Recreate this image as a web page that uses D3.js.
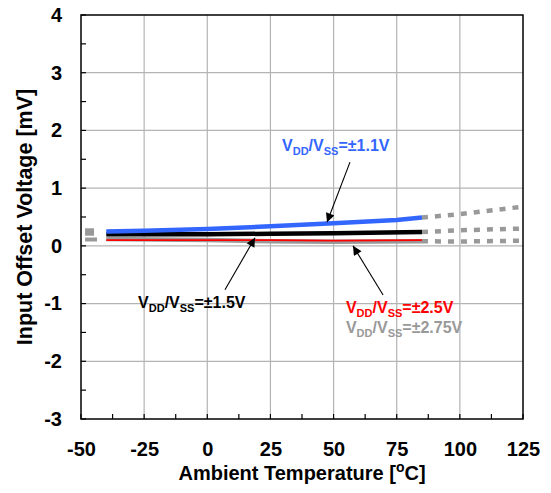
<!DOCTYPE html>
<html><head><meta charset="utf-8">
<script src="https://cdn.jsdelivr.net/npm/d3@7"></script>
<style>body{margin:0;background:#fff}svg{display:block}text{font-family:"Liberation Sans",Arial,sans-serif;font-weight:bold}</style>
</head><body><svg id="c" width="551" height="493"></svg>
<script>
// ---- data ----
const xTicks = [-50,-25,0,25,50,75,100,125];
const yTicks = [-3,-2,-1,0,1,2,3,4];
const temps11 = [-40,-25,0,25,50,75,85];
const vos11   = [0.25,0.26,0.29,0.34,0.39,0.45,0.49];
const temps15 = [-40,0,25,50,85];
const vos15   = [0.20,0.20,0.21,0.22,0.24];
const temps25 = [-40,0,25,50,85];
const vos25   = [0.10,0.10,0.10,0.09,0.10];
const temps275 = [-40,0,25,50,85];
const vos275   = [0.12,0.10,0.08,0.07,0.08];
// dashed extrapolations (grey)
const extTemps = [85,100,125];
const ext11 = [0.49,0.55,0.68];
const ext15 = [0.24,0.27,0.30];
const ext275 = [0.08,0.075,0.09];
const extLeftTemps = [-48.4,-40];
const extLeft11 = [0.27,0.27];
const extLeft15 = [0.21,0.21];
const extLeft275 = [0.11,0.11];
const labels = ["\u00b11.1V","\u00b11.5V","\u00b12.5V","\u00b12.75V"];

const W=551,H=493,m={l:81,r:28,t:15,b:74};
const svg=d3.select("#c");
const x=d3.scaleLinear().domain([-50,125]).range([m.l,W-m.r]);
const y=d3.scaleLinear().domain([-3,4]).range([H-m.b,m.t]);

// grid
svg.append("g").selectAll("line").data(xTicks.slice(1,-1)).join("line")
 .attr("x1",d=>x(d)).attr("x2",d=>x(d)).attr("y1",y(-3)).attr("y2",y(4))
 .attr("stroke","#b4b4b4").attr("stroke-width",1.2);
svg.append("g").selectAll("line").data(yTicks.slice(1,-1)).join("line")
 .attr("y1",d=>y(d)).attr("y2",d=>y(d)).attr("x1",x(-50)).attr("x2",x(125))
 .attr("stroke","#b4b4b4").attr("stroke-width",1.2);

// inward ticks
const xMinor=d3.range(-50,125.1,12.5), yMinor=d3.range(-3,4.01,0.5);
svg.append("g").selectAll("line").data(xMinor).join("line")
 .attr("x1",d=>x(d)).attr("x2",d=>x(d)).attr("y1",y(-3)).attr("y2",y(-3)-5)
 .attr("stroke","#000").attr("stroke-width",1.2);
svg.append("g").selectAll("line").data(yMinor).join("line")
 .attr("y1",d=>y(d)).attr("y2",d=>y(d)).attr("x1",x(-50)).attr("x2",x(-50)+5)
 .attr("stroke","#000").attr("stroke-width",1.2);

// axes labels via d3 axes (no domain/ticks lines)
const fmt=d=>String(d);
const ax=svg.append("g").attr("transform",`translate(0,${y(-3)})`)
 .call(d3.axisBottom(x).tickValues(xTicks).tickSize(0).tickPadding(23).tickFormat(fmt));
ax.select(".domain").remove();
ax.selectAll("text").attr("font-size",20).attr("font-family","Liberation Sans, Arial").attr("font-weight","bold").attr("fill","#000");
const ay=svg.append("g").attr("transform",`translate(${x(-50)},0)`)
 .call(d3.axisLeft(y).tickValues(yTicks).tickSize(0).tickPadding(19).tickFormat(fmt));
ay.select(".domain").remove();
ay.selectAll("text").attr("font-size",20).attr("font-family","Liberation Sans, Arial").attr("font-weight","bold").attr("fill","#000");

// frame
svg.append("rect").attr("x",x(-50)).attr("y",y(4)).attr("width",x(125)-x(-50)).attr("height",y(-3)-y(4))
 .attr("fill","none").attr("stroke","#000").attr("stroke-width",1.5);

// axis titles
const xt=svg.append("text").attr("x",(x(-50)+x(125))/2).attr("y",480).attr("text-anchor","middle").attr("font-size",20);
xt.append("tspan").text("Ambient Temperature [");
xt.append("tspan").text("o").attr("font-size",14).attr("dy",-8);
xt.append("tspan").text("C]").attr("dy",8);
svg.append("text").attr("transform",`translate(32,${(y(-3)+y(4))/2}) rotate(-90)`).attr("text-anchor","middle")
 .attr("font-size",21.5).text("Input Offset Voltage [mV]");

const line=d3.line().x(d=>x(d[0])).y(d=>y(d[1]));
const zip=(a,b)=>a.map((v,i)=>[v,b[i]]);
const g=svg.append("g");
// dashed extrapolations
[[extTemps,ext11],[extTemps,ext15],[extTemps,ext275]].forEach(([t,v])=>{
 g.append("path").attr("d",line(zip(t,v))).attr("fill","none").attr("stroke","#999").attr("stroke-width",4.5).attr("stroke-dasharray","6,7");
});
[[extLeft11,9],[extLeft15,9],[extLeft275,12]].forEach(([v,dl])=>{
 g.append("path").attr("d",line(zip(extLeftTemps,v))).attr("fill","none").attr("stroke","#999").attr("stroke-width",4).attr("stroke-dasharray",`${dl},40`);
});
// solid series
g.append("path").attr("d",line(zip(temps275,vos275))).attr("fill","none").attr("stroke","#999").attr("stroke-width",4.5);
g.append("path").attr("d",line(zip(temps25,vos25))).attr("fill","none").attr("stroke","#f00").attr("stroke-width",1.8);
g.append("path").attr("d",line(zip(temps15,vos15))).attr("fill","none").attr("stroke","#000").attr("stroke-width",4.5);
g.append("path").attr("d",line(zip(temps11,vos11))).attr("fill","none").attr("stroke","#3366ff").attr("stroke-width",4.5);

// arrows
const defs=svg.append("defs");
defs.append("marker").attr("id","ah").attr("viewBox","0 0 10 10").attr("refX",10).attr("refY",5)
 .attr("markerWidth",12).attr("markerHeight",9).attr("markerUnits","userSpaceOnUse").attr("orient","auto")
 .append("path").attr("d","M0,0L10,5L0,10Z").attr("fill","#000");
const arrows=[[56.5,1.45,47.4,0.41],[7.0,-0.76,18.9,0.14],[69.6,-0.85,57.7,0.0]];
svg.append("g").selectAll("line").data(arrows).join("line")
 .attr("x1",d=>x(d[0])).attr("y1",d=>y(d[1])).attr("x2",d=>x(d[2])).attr("y2",d=>y(d[3]))
 .attr("stroke","#000").attr("stroke-width",1.1).attr("marker-end","url(#ah)");

// series labels
const lab=[[29.6,1.64,"#3366ff",labels[0]],[-27.4,-1.08,"#000",labels[1]],[54.9,-1.16,"#ff0000",labels[2]],[54.9,-1.51,"#999999",labels[3]]];
lab.forEach(([t,v,c,s])=>{
 const tx=svg.append("text").attr("x",x(t)).attr("y",y(v)).attr("fill",c).attr("font-size",16);
 tx.append("tspan").text("V");
 tx.append("tspan").text("DD").attr("font-size",11).attr("dy",4);
 tx.append("tspan").text("/V").attr("dy",-4);
 tx.append("tspan").text("SS").attr("font-size",11).attr("dy",4);
 tx.append("tspan").text("="+s).attr("dy",-4);
});
</script></body></html>
